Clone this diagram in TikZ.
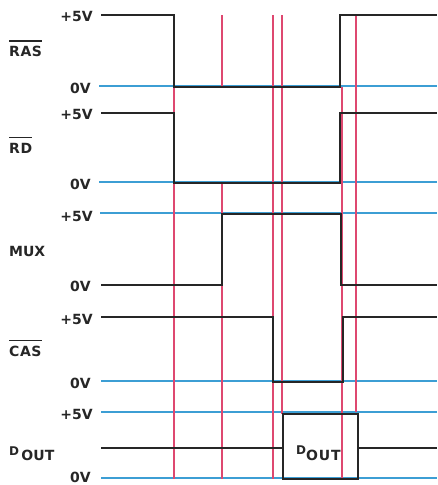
\documentclass[tikz,border=0pt]{standalone}
\usepackage{fontspec}
\setmainfont{DejaVu Sans}
\begin{document}
\begin{tikzpicture}[x=1pt,y=-1pt,
  wave/.style={draw=black!85, line width=1.4pt, line join=miter},
  refline/.style={draw=refblue, line width=1.4pt},
  marker/.style={draw=markpink, line width=1.2pt},
  lvl/.style={anchor=east, inner sep=0pt, font=\bfseries\fontsize{14}{14}\selectfont, text=black!85},
  sig/.style={anchor=west, inner sep=0pt, font=\bfseries\fontsize{14}{14}\selectfont, text=black!85},
  barline/.style={draw=black!85, line width=1.4pt}]
\definecolor{refblue}{RGB}{60,158,212}
\definecolor{markpink}{RGB}{222,72,112}
\useasboundingbox[fill=white] (0,0) rectangle (438,485);

% reference (blue) levels
\draw[refline] (99,86) -- (437,86);
\draw[refline] (99,182) -- (437,182);
\draw[refline] (100,213) -- (437,213);
\draw[refline] (101,381) -- (437,381);
\draw[refline] (101,412) -- (437,412);
\draw[refline] (101,478) -- (437,478);

% time markers (pink)
\draw[marker] (174,87) -- (174,479);
\draw[marker] (222,15) -- (222,86);
\draw[marker] (222,183) -- (222,479);
\draw[marker] (273,15) -- (273,479);
\draw[marker] (282,15) -- (282,414);
\draw[marker] (342,87) -- (342,479);
\draw[marker] (356,15) -- (356,412);

% waveforms
\draw[wave] (101,15) -- (174,15) -- (174,87) -- (340,87) -- (340,15) -- (437,15);
\draw[wave] (101,113) -- (174,113) -- (174,183) -- (340,183) -- (340,113) -- (437,113);
\draw[wave] (101,285) -- (222,285) -- (222,214) -- (341,214) -- (341,285) -- (437,285);
\draw[wave] (101,317) -- (273,317) -- (273,382) -- (343,382) -- (343,317) -- (437,317);
\draw[wave] (101,448) -- (283,448);
\draw[wave] (283,414) rectangle (358,479);
\draw[wave] (358,448) -- (437,448);
\node[inner sep=0pt, anchor=base west, font=\bfseries\fontsize{14}{14}\selectfont, text=black!85] (boxlab) at (296,460) {\raisebox{6pt}{\fontsize{12}{12}\selectfont D}\addfontfeature{LetterSpace=6}OUT};

% level labels
\node[lvl] (l1) at (93,16.5) {+5V};
\node[lvl] (l2) at (91,88) {0V};
\node[lvl] (l3) at (93,114.5) {+5V};
\node[lvl] (l4) at (91,184) {0V};
\node[lvl] (l5) at (93,216) {+5V};
\node[lvl] (l6) at (91,286) {0V};
\node[lvl] (l7) at (93,319) {+5V};
\node[lvl] (l8) at (91,383.5) {0V};
\node[lvl] (l9) at (93,414) {+5V};
\node[lvl] (l10) at (91,477) {0V};

% signal names
\node[sig] (ras) at (9,51.5) {\addfontfeature{LetterSpace=4}RAS};
\draw[barline] ([yshift=5pt]ras.north west) -- ([yshift=5pt]ras.north east);
\node[sig] (rd) at (9,148) {\addfontfeature{LetterSpace=4}RD};
\draw[barline] ([yshift=5pt]rd.north west) -- ([yshift=5pt]rd.north east);
\node[sig] (mux) at (9,251) {MUX};
\node[sig] (cas) at (9,351) {\addfontfeature{LetterSpace=4}CAS};
\draw[barline] ([yshift=5pt]cas.north west) -- ([yshift=5pt]cas.north east);
\node[sig, anchor=base west] (dout) at (9,460) {\raisebox{5pt}{\fontsize{12}{12}\selectfont D}\,OUT};
\end{tikzpicture}
\end{document}
